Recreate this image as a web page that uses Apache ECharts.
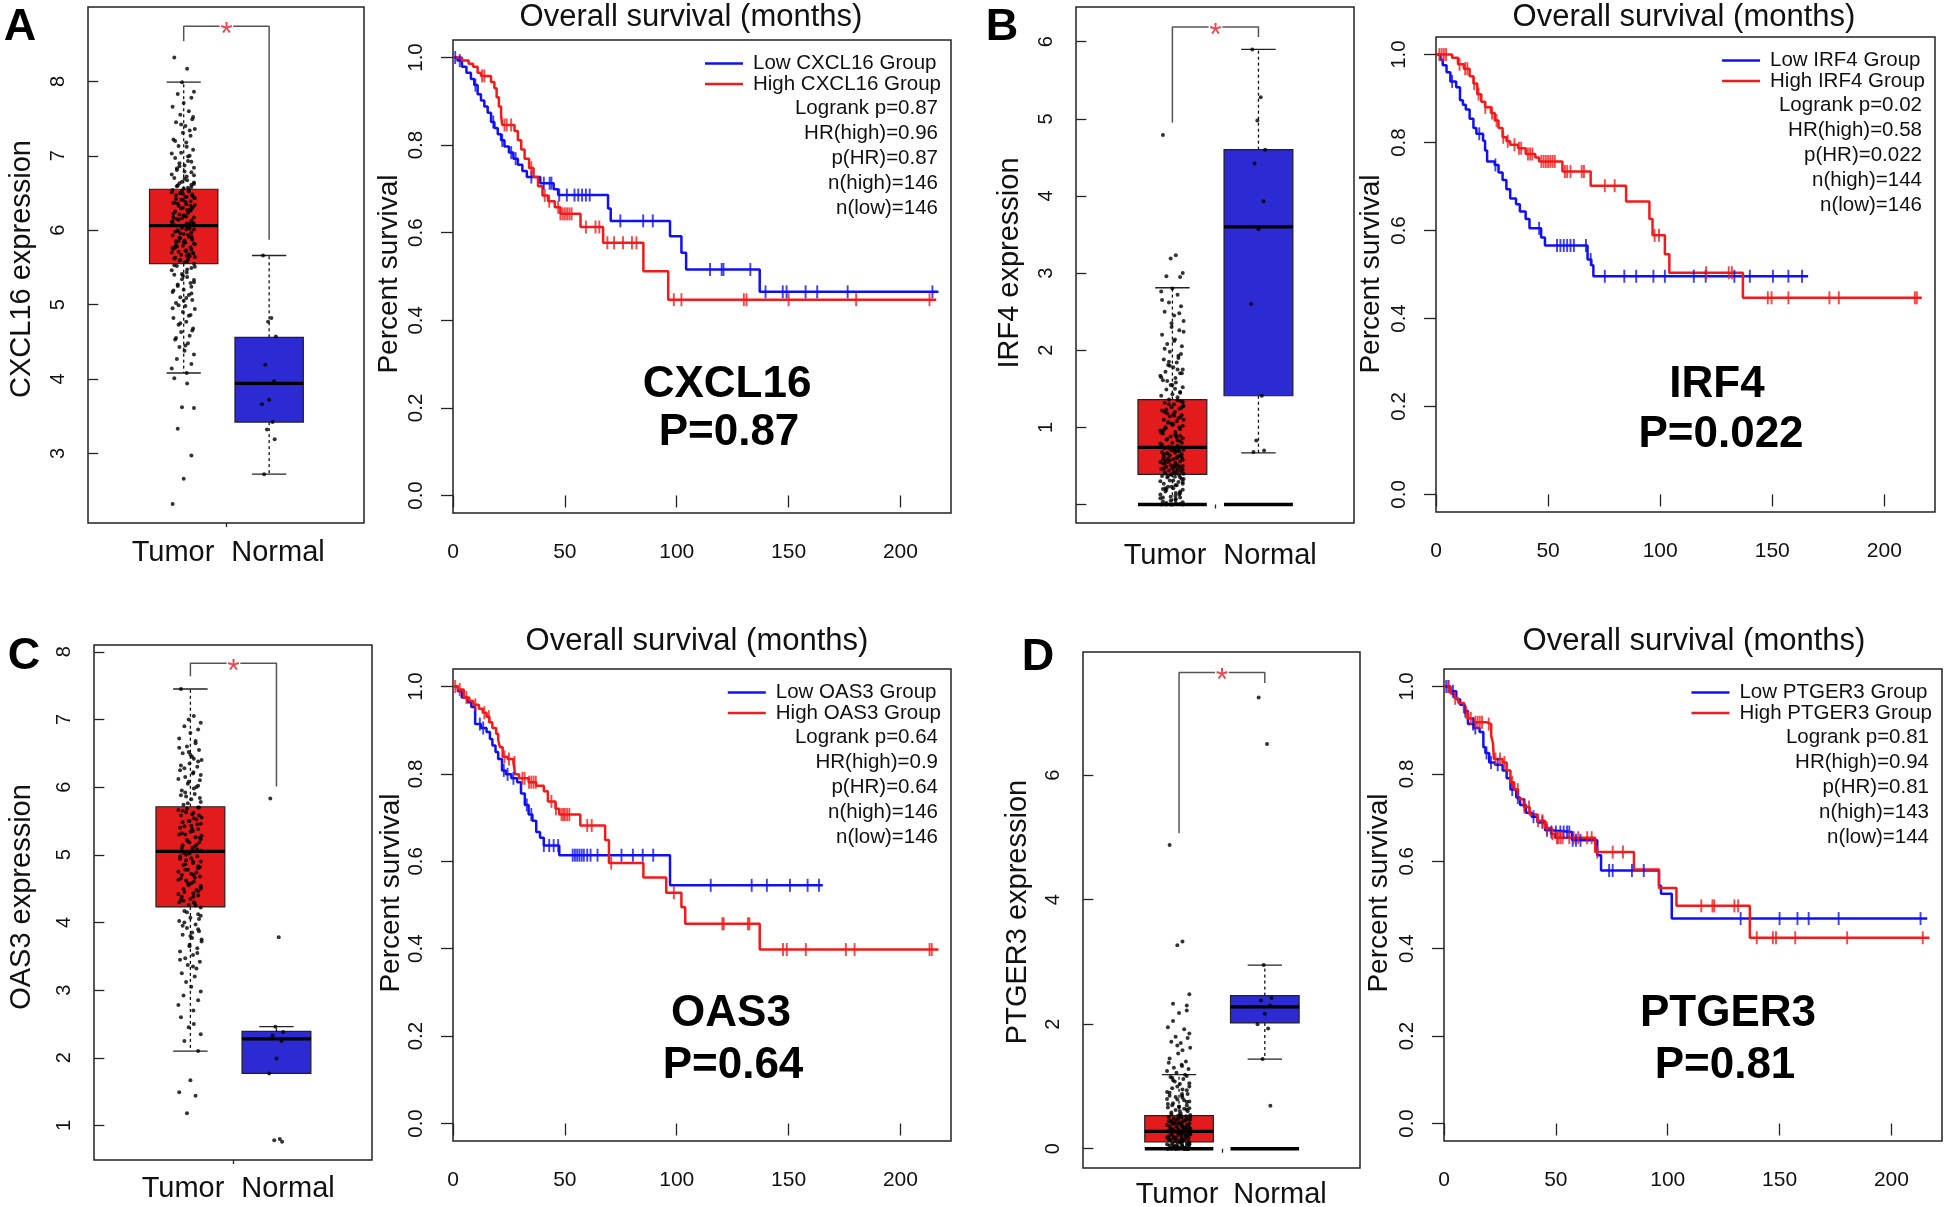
<!DOCTYPE html>
<html><head><meta charset="utf-8">
<script src="https://cdn.jsdelivr.net/npm/echarts@6/dist/echarts.min.js"></script>
<style>html,body{margin:0;padding:0;background:#fff}#c{width:1946px;height:1207px}</style>
</head><body><div id="c"></div>
<script>
// ---------------- DATA ----------------
const categories = ['Tumor', 'Normal'];

// Panel A : CXCL16
const aTumor = [8.32,8.17,7.99,7.86,7.83,7.78,7.71,7.66,7.6,7.55,7.49,7.45,7.4,7.36,7.31,7.27,7.22,7.18,7.13,7.08,7.04,7.0,6.97,6.93,6.9,6.87,6.84,6.81,6.78,6.75,6.72,6.7,6.67,6.65,6.62,6.6,6.58,6.56,6.54,6.52,6.5,6.48,6.47,6.45,6.43,6.41,6.39,6.37,6.35,6.33,6.31,6.29,6.27,6.25,6.23,6.21,6.19,6.17,6.15,6.13,6.11,6.09,6.07,6.05,6.03,6.01,5.99,5.97,5.95,5.93,5.91,5.89,5.87,5.85,5.83,5.81,5.79,5.77,5.75,5.73,5.71,5.69,5.67,5.65,5.63,5.61,5.59,5.57,5.55,5.52,5.49,5.46,5.43,5.4,5.37,5.34,5.3,5.27,5.24,5.2,5.17,5.13,5.1,5.06,5.02,4.98,4.94,4.9,4.86,4.82,4.77,4.73,4.68,4.63,4.58,4.53,4.48,4.43,4.38,4.33,4.27,4.2,4.14,4.08,4.01,3.94,3.62,3.61,3.33,2.97,2.66,2.32,
  6.54,6.5,6.46,6.42,6.38,6.34,6.3,6.26,6.22,6.18,6.14,6.1,6.06,6.02,5.98,5.94,5.9,5.86,5.82,5.78,5.74,5.7,5.66,5.62,5.58,6.53,6.44,6.36,6.28,6.2,6.12,6.04,5.96,5.88,5.8,5.72,5.64,6.49,6.33,6.17,6.01,5.85,5.69,6.41,6.09,5.77,6.57,6.63,6.69,6.74,6.83,6.92,7.03,7.12,5.53,5.47,5.41,5.33,5.25,5.15,5.05,4.95,4.85,4.75,4.65,4.55,4.45,5.51,5.39,5.29,5.19,5.09,4.99,7.52,7.42,7.34,7.2,6.99,6.86,6.79,6.64,6.59,6.61,6.51,6.45,6.37,6.27,6.16,6.08,6.0,5.92,5.84,5.76,5.68,5.6];
const aNormal = [5.66,4.82,4.77,4.57,4.19,3.97,3.72,3.66,3.42,3.32,3.19,2.72];
const aBoxTumor = [4.08,5.55,6.06,6.55,7.99];   // low whisker, Q1, median, Q3, high whisker
const aBoxNormal = [2.72,3.42,3.94,4.56,5.66];
const aBracket = [8.54,8.74,5.87];              // left end, top, right end
const aYTicks = [3,4,5,6,7,8];
const aLowT  = [0,2,4,6,8,9.5,11,12.5,14,15.5,17,18.5,20,21.5,23,25,27,29,31,33,39,45,47,69.3,70.5,97,102.1,104.2,137.1,217];
const aLowS  = [1,0.993,0.979,0.965,0.951,0.937,0.916,0.902,0.888,0.874,0.853,0.839,0.825,0.811,0.797,0.783,0.769,0.755,0.741,0.727,0.713,0.699,0.686,0.655,0.627,0.592,0.554,0.516,0.465,0.465];
const aLowCens = [1,3,10,18,22,26,28,35,40.6,43.2,44,47.5,50.9,54.3,56,57.7,59.4,61.1,74.8,85,89.3,114.9,120.1,120.9,132.9,139.7,147.4,149.1,157.6,162.8,176.4,214.3];
const aHighT = [0,4,7,9,11,12.5,17,18.5,19.5,20.5,21.5,22,27.5,29,30.5,32,34,36,38,40,42.5,45.5,48,57,67.1,85.1,96.2,216];
const aHighS = [1,0.993,0.986,0.979,0.965,0.958,0.944,0.93,0.909,0.888,0.867,0.846,0.832,0.811,0.79,0.769,0.748,0.727,0.706,0.685,0.672,0.658,0.643,0.613,0.577,0.512,0.447,0.447];
const aHighCens = [13,14,23,24,26,35,41,43,47,48,49,50,51,52,53,59.4,63.7,65.4,69,72,76,80,82,98.7,102.1,130,131.2,150,180.2,213];
const aStats = ['Logrank p=0.87','HR(high)=0.96','p(HR)=0.87','n(high)=146','n(low)=146'];

// Panel B : IRF4
const bTumor = [4.79,3.23,3.19,3.0,2.96,2.95,2.8,2.76,2.72,2.62,2.57,2.5,2.45,2.38,2.3,2.26,2.2,2.14,2.08,2.05,1.98,1.93,1.88,1.84,1.81,1.78,1.75,1.72,1.7,1.67,1.64,1.61,1.58,1.55,1.52,1.49,1.46,1.43,1.41,1.39,1.36,1.34,1.32,1.3,1.28,1.26,1.24,1.22,1.2,1.18,1.16,1.14,1.12,1.1,1.08,1.06,1.04,1.02,1.0,0.98,0.96,0.94,0.92,0.9,0.88,0.86,0.84,0.82,0.8,0.78,0.76,0.75,0.74,0.73,0.72,0.71,0.7,0.69,0.68,0.67,0.66,0.65,0.64,0.63,0.62,0.61,0.6,0.59,0.58,0.57,0.56,0.55,0.54,0.53,0.52,0.51,0.5,0.49,0.48,0.47,0.46,0.45,0.44,0.43,0.42,0.41,0.4,0.39,0.38,0.37,0.36,0.35,0.33,0.31,0.29,0.27,0.25,0.23,0.21,0.19,0.17,0.15,0.13,0.11,0.09,0.07,0.05,0.03,0.02,0.01,0.0,0.0,
  1.35,1.3,1.25,1.2,1.15,1.1,1.05,1.0,0.95,0.9,0.85,0.8,0.75,0.7,0.65,0.6,0.55,0.5,0.45,0.4,0.35,0.3,0.25,0.2,0.15,0.1,1.33,1.23,1.13,1.03,0.93,0.83,0.73,0.63,0.53,0.43,0.33,0.23,0.13,0.77,0.71,0.67,0.61,0.57,0.51,0.47,0.41,0.37,0.31,0.27,0.21,0.17,0.08,0.06,0.04,0.02,0.0,0.0,0.0,1.45,1.55,1.65,1.75,1.85,1.95,2.02,2.12,2.24,2.35,2.48,2.65,1.5,1.6,1.7,1.8,1.9,0.97,0.87,1.07,1.17,1.27,0.99,0.89,0.79,0.69,0.59,0.49,0.39,0.29,0.19,0.09];
const bNormal = [5.9,5.28,4.98,4.6,4.42,3.93,3.57,2.6,1.41,0.83,0.7,0.68];
const bBoxTumor = [0,0.39,0.74,1.36,2.81];
const bBoxNormal = [0.67,1.41,3.60,4.60,5.90];
const bBracket = [4.95,6.19,6.06];
const bYTicks = [0,1,2,3,4,5,6];
const bYLabels = [1,2,3,4,5,6];
const bLowT  = [0,2,3,4.7,6.4,9,10.7,12,13.3,15,16.7,18,21,21.9,22.8,26.2,27.9,29.7,31.4,33.1,35.7,37.4,40,41.7,46.9,48.6,67.6,69.3,70.2,166];
const bLowS  = [1,0.988,0.976,0.96,0.939,0.926,0.896,0.886,0.875,0.854,0.833,0.82,0.804,0.782,0.757,0.749,0.732,0.715,0.694,0.673,0.66,0.643,0.626,0.605,0.584,0.566,0.534,0.521,0.496,0.496];
const bLowCens = [7.2,19.3,26.5,46,54,55.5,57,58.5,60,61.5,66.9,69,75.3,84,89.3,97,102.1,115,120.3,133.1,140,150.3,157.2,163.3];
const bHighT = [0,7.2,9.8,12.4,15,16.7,18.4,20.2,21.9,24.5,26.2,27.9,29.7,31.5,33.1,36.6,40,44.3,46,56.4,69,84.8,95.2,96.6,102.1,104.1,136.9,216.7];
const bHighS = [1,0.993,0.978,0.968,0.951,0.934,0.91,0.893,0.88,0.867,0.85,0.833,0.812,0.803,0.795,0.787,0.774,0.766,0.757,0.734,0.702,0.666,0.626,0.589,0.546,0.504,0.447,0.447];
const bHighCens = [1.5,2.5,3.5,4.5,10.5,13,14,17,19,22,25,27,30,32,35,37,38,41,42,43,47,48,49,50,51,52,53,57.5,58.5,60,65,66,75.3,79.7,97.5,99.5,120.5,130.6,132,148,149.7,157.2,175.5,179.7,213.6,214.5];
const bStats = ['Logrank p=0.02','HR(high)=0.58','p(HR)=0.022','n(high)=144','n(low)=146'];

// Panel C : OAS3
const cTumor = [7.45,7.05,7.0,6.95,6.9,6.85,6.8,6.72,6.65,6.6,6.55,6.5,6.45,6.4,6.35,6.3,6.25,6.2,6.15,6.1,6.05,6.0,5.95,5.9,5.86,5.82,5.78,5.74,5.7,5.66,5.62,5.58,5.54,5.5,5.46,5.42,5.38,5.34,5.3,5.26,5.22,5.18,5.14,5.1,5.06,5.02,4.98,4.94,4.9,4.86,4.82,4.78,4.74,4.7,4.66,4.62,4.58,4.54,4.5,4.46,4.42,4.38,4.34,4.3,4.26,4.22,4.17,4.12,4.07,4.02,3.97,3.92,3.87,3.82,3.77,3.72,3.67,3.62,3.57,3.52,3.47,3.42,3.37,3.32,3.25,3.2,3.12,3.05,2.98,2.92,2.85,2.78,2.7,2.6,2.5,2.45,2.35,2.25,2.1,1.67,1.49,1.44,1.18,
  5.7,5.65,5.6,5.55,5.5,5.45,5.4,5.35,5.3,5.25,5.2,5.15,5.1,5.05,5.0,4.95,4.9,4.85,4.8,4.75,4.7,4.65,4.6,4.55,4.5,4.45,4.4,4.35,4.3,4.25,5.68,5.58,5.48,5.38,5.28,5.18,5.08,4.98,4.88,4.78,4.68,4.58,4.48,4.38,4.28,5.63,5.43,5.23,5.03,4.83,4.63,4.43,5.88,5.98,6.08,6.18,6.28,6.38,6.48,6.58,6.68,4.15,4.05,3.95,3.85,3.75,3.65,3.55,3.45,3.35,5.92,5.84,5.76,5.52,5.32,5.12,4.92,4.72,4.52,4.32,6.02,6.12,6.22,6.32,6.42,6.52,4.1,4.0,3.9,3.8];
const cNormal = [5.83,3.78,2.46,2.38,2.33,2.25,1.99,1.77,0.8,0.78,0.76];
const cBoxTumor = [2.10,4.23,5.05,5.71,7.45];
const cBoxNormal = [1.77,1.77,2.28,2.39,2.46];
const cBracket = [7.64,7.83,6.01];
const cYTicks = [1,2,3,4,5,6,7,8];
const cLowT  = [0,2.2,3.9,6.5,8.2,9.9,12.5,15,16.5,17.6,19,20.2,21.9,23.6,26.1,28.7,30.4,32.1,33.8,35.5,37.2,38.9,40.6,47.5,97,165.3];
const cLowS  = [1,0.989,0.975,0.964,0.953,0.914,0.905,0.896,0.88,0.865,0.85,0.834,0.808,0.799,0.79,0.781,0.755,0.729,0.707,0.693,0.667,0.654,0.636,0.614,0.545,0.545];
const cLowCens = [12,13.5,22.7,24.4,27,33,35,40.6,43,45,47,53.5,54.5,55.5,56.5,57.5,58.5,60,61.5,64.6,75.3,80.4,84.8,89.5,115.2,133.5,140.3,150.6,158.5,163.6];
const cHighT = [0,2.2,4.8,7.3,9.1,11.6,13.3,15,16.3,17.6,19.3,20.2,21,22.2,24.4,27,27.8,29.5,33.8,37.2,40.6,42.4,45.8,47.5,56.9,68,69.7,85.1,95.3,102.1,103.8,137.1,217];
const cHighS = [1,0.993,0.975,0.967,0.958,0.949,0.94,0.931,0.918,0.905,0.892,0.877,0.861,0.839,0.834,0.826,0.799,0.79,0.781,0.773,0.76,0.737,0.72,0.707,0.682,0.649,0.596,0.563,0.528,0.495,0.457,0.398,0.398];
const cHighCens = [1,3,6,10,14,16,23,25,27.5,31,32,34,35,36,37,44,46,48.5,49.3,50,51,52,60,62,70.7,98.7,120.4,121,131.8,132.5,147.5,149.2,157.7,175.6,179.5,213,214];
const cStats = ['Logrank p=0.64','HR(high)=0.9','p(HR)=0.64','n(high)=146','n(low)=146'];

// Panel D : PTGER3
const dTumor = [4.88,3.33,3.27,2.48,2.33,2.3,2.18,1.95,1.92,1.8,1.78,1.72,1.7,1.62,1.53,1.4,1.38,1.35,1.3,1.28,1.22,1.19,1.15,1.12,1.08,1.04,1.0,0.97,0.94,0.91,0.88,0.85,0.82,0.79,0.76,0.73,0.7,0.68,0.66,0.64,0.62,0.6,0.58,0.56,0.54,0.53,0.52,0.51,0.5,0.49,0.48,0.47,0.46,0.45,0.44,0.43,0.42,0.41,0.4,0.39,0.38,0.37,0.36,0.35,0.34,0.33,0.32,0.31,0.3,0.29,0.28,0.27,0.26,0.25,0.24,0.23,0.22,0.21,0.2,0.19,0.18,0.17,0.16,0.15,0.14,0.13,0.12,0.11,0.1,0.09,0.08,0.07,0.06,0.05,0.04,0.03,0.02,0.01,0.0,0.0,0.0,0.0,0.0,0.0,
  0.55,0.52,0.5,0.48,0.46,0.44,0.42,0.4,0.38,0.36,0.34,0.32,0.3,0.28,0.26,0.24,0.22,0.2,0.18,0.16,0.14,0.12,0.1,0.08,0.06,0.04,0.02,0.0,0.0,0.0,0.0,0.0,0.53,0.47,0.41,0.35,0.29,0.23,0.17,0.11,0.05,0.01,0.01,0.02,0.03,0.6,0.65,0.7,0.75,0.8,0.85,0.9,0.95,1.0,1.05,1.1,0.63,0.67,0.72,0.78,0.83,0.88,0.45,0.39,0.33,0.27,0.21,0.15,0.09,0.03,0.0,0.0,0.0,0.31,0.25,0.19,0.13,0.07,1.14,1.17,1.25,1.33,1.45,1.58,1.66,1.85,2.05,2.22];
const dNormal = [7.25,6.5,2.95,2.42,2.38,2.3,2.17,2.0,1.93,1.44,0.69];
const dBoxTumor = [0,0.11,0.28,0.53,1.19];
const dBoxNormal = [1.44,2.02,2.28,2.46,2.95];
const dBracket = [5.07,7.65,7.48];
const dYTicks = [0,2,4,6];
const dLowT  = [0,2.9,5.5,7.2,9,10.7,13.3,15.9,17.6,18.5,20.2,22.8,26.2,28,29.7,32.3,34,36.6,39.2,41.8,45.2,47.8,57.3,68.5,70.2,96.1,97,101.8,216];
const dLowS  = [1,0.989,0.971,0.958,0.944,0.914,0.905,0.896,0.861,0.848,0.826,0.821,0.808,0.79,0.764,0.746,0.729,0.711,0.702,0.689,0.671,0.667,0.648,0.614,0.579,0.544,0.526,0.469,0.469];
const dLowCens = [1,2,4,9.5,13,14,19,21,24,30.5,33,36,40,44,46,48,50,52,53.5,55,56,57.5,59,61,73.8,75.4,84,89.3,132.6,150,158,163,176.4,213];
const dHighT = [0,2.9,4.7,6.4,9,10.7,13.3,19.3,21.1,21.9,22.3,26.2,28,29.7,31.4,33.1,35.7,38.3,41.8,45.2,47.8,49.5,67.6,84.9,96.1,103.9,136.7,217];
const dHighS = [1,0.984,0.973,0.962,0.94,0.927,0.918,0.914,0.887,0.87,0.834,0.826,0.808,0.781,0.764,0.742,0.724,0.707,0.693,0.676,0.663,0.654,0.621,0.581,0.539,0.498,0.425,0.425];
const dHighCens = [2,5,10,12,14,15,16,17,20,23,25,27,30.5,33,36,38,42,44,46,48.5,50.5,51,52,53,56,58,60,64,66,68.5,75.4,80,115,120,120.8,129.8,131.5,139.8,147,148.4,157,180.2,214];
const dStats = ['Logrank p=0.81','HR(high)=0.94','p(HR)=0.81','n(high)=143','n(low)=144'];

const kmXTicks = [0,50,100,150,200];
const kmYTicks = [0,0.2,0.4,0.6,0.8,1.0];

// ---------------- STYLE / LAYOUT ----------------
const FONT = '"Liberation Sans", Arial, Helvetica, sans-serif';
const RED_BOX = '#e31b1d', BLUE_BOX = '#2c2ad2';
const RED_LINE = '#f21a1a', BLUE_LINE = '#1010f2';
const JIT = [-0.11,0.04,-0.02,0.12,-0.07,0.09,0.0,-0.13,0.06,-0.04,0.1,-0.09,0.02,0.13,-0.01,0.08,-0.12,0.03,-0.06,0.11,-0.03,0.07,-0.1,0.05,-0.05,0.01,0.12,-0.08,0.09,-0.14,0.035];

const panels = [
  {letter:'A', gene:'CXCL16', pv:'P=0.87', tumor:aTumor, normal:aNormal, boxT:aBoxTumor, boxN:aBoxNormal, bracket:aBracket,
   yTicks:aYTicks, yLabels:aYTicks, yRange:[2.064,9.0], zero:false,
   low:[aLowT,aLowS,aLowCens], high:[aHighT,aHighS,aHighCens], stats:aStats,
   boxGrid:{left:88,top:7,width:276,height:516}, kmGrid:{left:453,top:40,width:498,height:473},
   letterPos:[20,28], ytPos:[22,269], catY:553, catX:[173,278], titlePos:[691,17], kmYtPos:[389,274], genePos:[727,385], pPos:[729,433]},
  {letter:'B', gene:'IRF4', pv:'P=0.022', tumor:bTumor, normal:bNormal, boxT:bBoxTumor, boxN:bBoxNormal, bracket:bBracket,
   yTicks:bYTicks, yLabels:bYLabels, yRange:[-0.24,6.45], zero:true,
   low:[bLowT,bLowS,bLowCens], high:[bHighT,bHighS,bHighCens], stats:bStats,
   boxGrid:{left:1076,top:7,width:278,height:516}, kmGrid:{left:1436,top:37,width:499,height:475},
   letterPos:[1002,28], ytPos:[1010,263], catY:556, catX:[1165,1270], titlePos:[1684,17], kmYtPos:[1371,274], genePos:[1717,385], pPos:[1721,435]},
  {letter:'C', gene:'OAS3', pv:'P=0.64', tumor:cTumor, normal:cNormal, boxT:cBoxTumor, boxN:cBoxNormal, bracket:cBracket,
   yTicks:cYTicks, yLabels:cYTicks, yRange:[0.49,8.1], zero:false,
   low:[cLowT,cLowS,cLowCens], high:[cHighT,cHighS,cHighCens], stats:cStats,
   boxGrid:{left:94,top:645,width:278,height:515}, kmGrid:{left:453,top:669,width:498,height:472},
   letterPos:[24,657], ytPos:[22,897], catY:1189, catX:[183,288], titlePos:[697,641], kmYtPos:[391,893], genePos:[731,1014], pPos:[733,1066]},
  {letter:'D', gene:'PTGER3', pv:'P=0.81', tumor:dTumor, normal:dNormal, boxT:dBoxTumor, boxN:dBoxNormal, bracket:dBracket,
   yTicks:dYTicks, yLabels:dYTicks, yRange:[-0.31,7.98], zero:true,
   low:[dLowT,dLowS,dLowCens], high:[dHighT,dHighS,dHighCens], stats:dStats,
   boxGrid:{left:1083,top:652,width:277,height:516}, kmGrid:{left:1444,top:669,width:498,height:472},
   letterPos:[1038,658], ytPos:[1018,912], catY:1195, catX:[1177,1280], titlePos:[1694,641], kmYtPos:[1379,893], genePos:[1728,1014], pPos:[1725,1066]}
];

function survAt(T, S, t) {
  let s = S[0];
  for (let i = 0; i < T.length; i++) { if (T[i] <= t) s = S[i]; else break; }
  return s;
}
function jitterPts(vals, center, scale) {
  return vals.map((v, k) => [center + JIT[k % JIT.length] * scale, v]);
}

function renderBox(params, api) {
  const x = api.value(0), lo = api.value(1), q1 = api.value(2), med = api.value(3), q3 = api.value(4), hi = api.value(5);
  const fill = params.dataIndex === 0 ? RED_BOX : BLUE_BOX;
  const c = (a, b) => api.coord([a, b]);
  const ch = [];
  const seg = (p1, p2, style) => ch.push({type:'line', shape:{x1:p1[0],y1:p1[1],x2:p2[0],y2:p2[1]}, style});
  const dash = {stroke:'#111', lineWidth:1.3, lineDash:[3,3]};
  const solid = {stroke:'#222', lineWidth:1.3};
  if (hi > q3) seg(c(x, q3), c(x, hi), dash);
  if (lo < q1) seg(c(x, q1), c(x, lo), dash);
  seg(c(x-0.2, hi), c(x+0.2, hi), solid);
  seg(c(x-0.2, lo), c(x+0.2, lo), solid);
  const tl = c(x-0.4, q3), br = c(x+0.4, q1);
  ch.push({type:'rect', shape:{x:tl[0], y:tl[1], width:br[0]-tl[0], height:Math.max(br[1]-tl[1],1)}, style:{fill, stroke:'#222', lineWidth:1.2}});
  seg(c(x-0.4, med), c(x+0.4, med), {stroke:'#000', lineWidth:3.2});
  return {type:'group', children:ch};
}
function renderZero(params, api) {
  const x = api.value(0), v = api.value(1);
  const p1 = api.coord([x-0.4, v]), p2 = api.coord([x+0.4, v]);
  return {type:'line', shape:{x1:p1[0],y1:p1[1],x2:p2[0],y2:p2[1]}, style:{stroke:'#000', lineWidth:3.4}};
}

const ctx = document.createElement('canvas').getContext('2d');
function textW(t, size) { ctx.font = size + 'px "Liberation Sans", Arial'; return ctx.measureText(t).width; }

const grid = [], xAxis = [], yAxis = [], series = [], graphic = [];
const tick = {color:'#222', width:1.3};
function txt(x, y, text, size, opts) {
  opts = opts || {};
  graphic.push({type:'text', x, y, rotation: opts.rot || 0, silent:true,
    style:{text, fontSize:size, fontFamily:FONT, fontWeight: opts.bold ? 'bold' : 'normal',
      fill: opts.color || '#111', align: opts.align || 'center', verticalAlign: opts.va || 'middle'}});
}

panels.forEach((p, i) => {
  const bi = 2*i, ki = 2*i + 1;
  // ---- box plot grid
  grid.push(Object.assign({show:true, borderColor:'#222', borderWidth:1.5, backgroundColor:'transparent'}, p.boxGrid));
  xAxis.push({type:'value', gridIndex:bi, min:-0.12, max:3.11, axisLine:{show:false}, splitLine:{show:false},
    axisTick:{show:true, customValues:[1.5], length:4, lineStyle:tick}, axisLabel:{show:false}});
  yAxis.push({type:'value', gridIndex:bi, min:p.yRange[0], max:p.yRange[1], axisLine:{show:false}, splitLine:{show:false},
    axisTick:{show:true, customValues:p.yTicks, length:10, lineStyle:tick},
    axisLabel:{show:true, customValues:p.yLabels, rotate:90, margin:20, fontSize:20, fontFamily:FONT, color:'#111'}});
  series.push({type:'custom', xAxisIndex:bi, yAxisIndex:bi, renderItem:renderBox, z:2, silent:true,
    data:[[1].concat(p.boxT), [2].concat(p.boxN)]});
  if (p.zero) series.push({type:'custom', xAxisIndex:bi, yAxisIndex:bi, renderItem:renderZero, z:4, silent:true, data:[[1,0],[2,0]]});
  series.push({type:'scatter', xAxisIndex:bi, yAxisIndex:bi, symbol:'circle', symbolSize:4, z:3, silent:true,
    itemStyle:{color:'#000'}, data: jitterPts(p.tumor, 1.0, 1).concat(jitterPts(p.normal, 2.0, 0.65))});
  const br = p.bracket;
  const bstyle = {color:'#555', width:1.5};
  series.push({type:'line', xAxisIndex:bi, yAxisIndex:bi, symbol:'none', silent:true, lineStyle:bstyle, z:5,
    data:[[1,br[0]],[1,br[1]],[1.42,br[1]]]});
  series.push({type:'line', xAxisIndex:bi, yAxisIndex:bi, symbol:'none', silent:true, lineStyle:bstyle, z:5,
    data:[[1.58,br[1]],[2,br[1]],[2,br[2]]]});
  series.push({type:'scatter', xAxisIndex:bi, yAxisIndex:bi, symbolSize:1, itemStyle:{color:'rgba(0,0,0,0)'}, silent:true, z:6,
    label:{show:true, position:'inside', formatter:'*', fontSize:32, fontFamily:FONT, color:'#e8141c', offset:[0,9]},
    data:[[1.5, br[1]]]});

  // ---- KM grid
  grid.push(Object.assign({show:true, borderColor:'#222', borderWidth:1.5, backgroundColor:'transparent'}, p.kmGrid));
  xAxis.push({type:'value', gridIndex:ki, min:0, max:222.6, axisLine:{show:false}, splitLine:{show:false},
    axisTick:{show:true, customValues:kmXTicks, length:12, lineStyle:tick},
    axisLabel:{show:true, customValues:kmXTicks, margin:29, fontSize:21, fontFamily:FONT, color:'#111'}});
  yAxis.push({type:'value', gridIndex:ki, min:-0.04, max:1.04, axisLine:{show:false}, splitLine:{show:false},
    axisTick:{show:true, customValues:kmYTicks, length:12, lineStyle:tick},
    axisLabel:{show:true, customValues:kmYTicks, rotate:90, margin:26, fontSize:20.5, fontFamily:FONT, color:'#111',
      formatter:(v) => Number(v).toFixed(1)}});
  [[p.low, BLUE_LINE], [p.high, RED_LINE]].forEach(([g, col]) => {
    const [T, S, C] = g;
    series.push({type:'line', xAxisIndex:ki, yAxisIndex:ki, step:'end', symbol:'none', silent:true, z:3,
      lineStyle:{color:col, width:2.5}, data:T.map((t, k) => [t, S[k]])});
    series.push({type:'scatter', xAxisIndex:ki, yAxisIndex:ki, symbol:'rect', symbolSize:[1.9,13], silent:true, z:4,
      itemStyle:{color:col}, data:C.map(t => [t, survAt(T, S, t)])});
  });

  // ---- texts
  txt(p.letterPos[0], p.letterPos[1], p.letter, 45, {bold:true, color:'#000'});
  txt(p.ytPos[0], p.ytPos[1], p.gene + ' expression', 29, {rot:Math.PI/2});
  txt(p.catX[0], p.catY, categories[0], 29);
  txt(p.catX[1], p.catY, categories[1], 29);
  txt(p.titlePos[0], p.titlePos[1], 'Overall survival (months)', 31);
  txt(p.kmYtPos[0], p.kmYtPos[1], 'Percent survival', 28, {rot:Math.PI/2});
  txt(p.genePos[0], p.genePos[1], p.gene, 44, {bold:true, color:'#000'});
  txt(p.pPos[0], p.pPos[1], p.pv, 44, {bold:true, color:'#000'});

  const kg = p.kmGrid, right = kg.left + kg.width, top = kg.top;
  const lowName = 'Low ' + p.gene + ' Group', highName = 'High ' + p.gene + ' Group';
  const wmax = Math.max(textW(lowName, 20.5), textW(highName, 20.5));
  const tl = right - 10 - wmax;
  [[lowName, BLUE_LINE, 23.5], [highName, RED_LINE, 44]].forEach(([nm, col, dy]) => {
    graphic.push({type:'line', silent:true, shape:{x1:tl-48, y1:top+dy, x2:tl-10, y2:top+dy}, style:{stroke:col, lineWidth:2.5}});
    txt(tl, top+dy, nm, 20.5, {align:'left'});
  });
  p.stats.forEach((s, k) => txt(right-13, top + 68 + 25*k, s, 20.5, {align:'right'}));
});

const chart = echarts.init(document.getElementById('c'), null, {renderer:'canvas'});
chart.setOption({animation:false, backgroundColor:'#fff', grid, xAxis, yAxis, series, graphic});
</script></body></html>
